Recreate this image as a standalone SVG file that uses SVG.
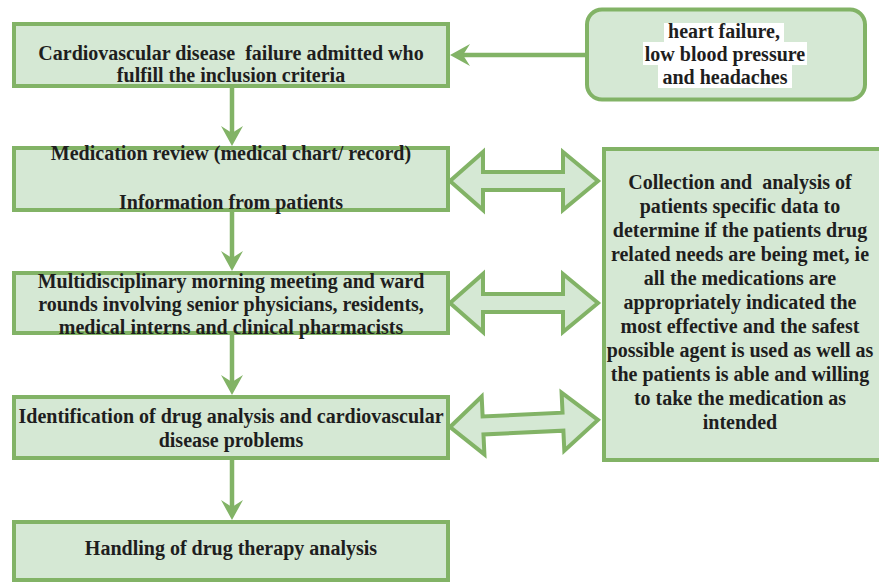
<svg xmlns="http://www.w3.org/2000/svg" width="879" height="583" viewBox="0 0 879 583">
  <style>
    .box { fill: #d5e8d4; stroke: #82b366; stroke-width: 4; }
    .lbl { font-family: 'Liberation Serif', 'DejaVu Serif', serif; font-weight: bold; font-size: 20px; fill: #1e1e1e; text-anchor: middle; white-space: pre; }
    .flow { fill: none; stroke: #82b366; stroke-width: 4.5; }
    .dbl { fill: #d5e8d4; stroke: #82b366; stroke-width: 4; stroke-linejoin: miter; }
    .hl { fill: #ffffff; }
  </style>
  <defs>
    <marker id="head" markerUnits="userSpaceOnUse" viewBox="0 0 20 22" markerWidth="20" markerHeight="22" refX="7" refY="11" orient="auto">
      <path d="M0,0 L20,11 L0,22 L7,11 Z" fill="#82b366"/>
    </marker>
    <!-- two-headed block arrow, centred on the origin -->
    <path id="biarrow" d="M-74,0 L-41,-29 L-41,-9 L39,-9 L39,-29 L74,0 L39,29 L39,9 L-41,9 L-41,29 Z"/>
  </defs>

  <rect width="879" height="583" fill="#ffffff"/>

  <!-- connectors -->
  <g id="connectors">
    <line class="flow" x1="587" y1="55" x2="463" y2="55" marker-end="url(#head)"/>
    <line class="flow" x1="232" y1="88" x2="232" y2="133" marker-end="url(#head)"/>
    <line class="flow" x1="232" y1="212" x2="232" y2="258" marker-end="url(#head)"/>
    <line class="flow" x1="232" y1="335" x2="232" y2="382" marker-end="url(#head)"/>
    <line class="flow" x1="232" y1="460" x2="232" y2="507" marker-end="url(#head)"/>
    <use href="#biarrow" class="dbl" transform="translate(524,181)"/>
    <use href="#biarrow" class="dbl" transform="translate(524,303)"/>
    <use href="#biarrow" class="dbl" transform="translate(524,423.5) rotate(-2.7)"/>
  </g>

  <!-- admission -->
  <g id="admitted">
    <rect class="box" x="14" y="24" width="434" height="62"/>
    <text class="lbl" x="231" y="60" xml:space="preserve">Cardiovascular disease  failure admitted who</text>
    <text class="lbl" x="231" y="82">fulfill the inclusion criteria</text>
  </g>

  <!-- presenting symptoms -->
  <g id="symptoms">
    <rect class="box" x="587" y="9.5" width="278" height="90" rx="15" ry="15"/>
    <rect class="hl" x="664" y="23" width="120" height="19"/>
    <rect class="hl" x="643" y="42" width="164" height="23"/>
    <rect class="hl" x="658" y="65" width="134" height="23"/>
    <text class="lbl" x="724" y="38">heart failure,</text>
    <text class="lbl" x="725" y="61">low blood pressure</text>
    <text class="lbl" x="725" y="84">and headaches</text>
  </g>

  <!-- medication review -->
  <g id="review">
    <rect class="box" x="14" y="148" width="434" height="62"/>
    <text class="lbl" x="231" y="160">Medication review (medical chart/ record)</text>
    <text class="lbl" x="231" y="209">Information from patients</text>
  </g>

  <!-- ward rounds -->
  <g id="rounds">
    <rect class="box" x="14" y="273" width="434" height="60"/>
    <text class="lbl" x="231" y="288">Multidisciplinary morning meeting and ward</text>
    <text class="lbl" x="231" y="311">rounds involving senior physicians, residents,</text>
    <text class="lbl" x="231" y="334">medical interns and clinical pharmacists</text>
  </g>

  <!-- problem identification -->
  <g id="identification">
    <rect class="box" x="14" y="397" width="434" height="61"/>
    <text class="lbl" x="231" y="423">Identification of drug analysis and cardiovascular</text>
    <text class="lbl" x="231" y="447">disease problems</text>
  </g>

  <!-- handling -->
  <g id="handling">
    <rect class="box" x="14" y="522" width="434" height="58"/>
    <text class="lbl" x="231" y="555">Handling of drug therapy analysis</text>
  </g>

  <!-- data collection and analysis -->
  <g id="collection">
    <rect class="box" x="604" y="149" width="290" height="311"/>
    <text class="lbl" x="740" y="189" xml:space="preserve">Collection and  analysis of</text>
    <text class="lbl" x="740" y="213">patients specific data to</text>
    <text class="lbl" x="740" y="237">determine if the patients drug</text>
    <text class="lbl" x="740" y="261">related needs are being met, ie</text>
    <text class="lbl" x="740" y="285">all the medications are</text>
    <text class="lbl" x="740" y="309">appropriately indicated the</text>
    <text class="lbl" x="740" y="333">most effective and the safest</text>
    <text class="lbl" x="740" y="357">possible agent is used as well as</text>
    <text class="lbl" x="740" y="381">the patients is able and willing</text>
    <text class="lbl" x="740" y="405">to take the medication as</text>
    <text class="lbl" x="740" y="429">intended</text>
  </g>
</svg>
